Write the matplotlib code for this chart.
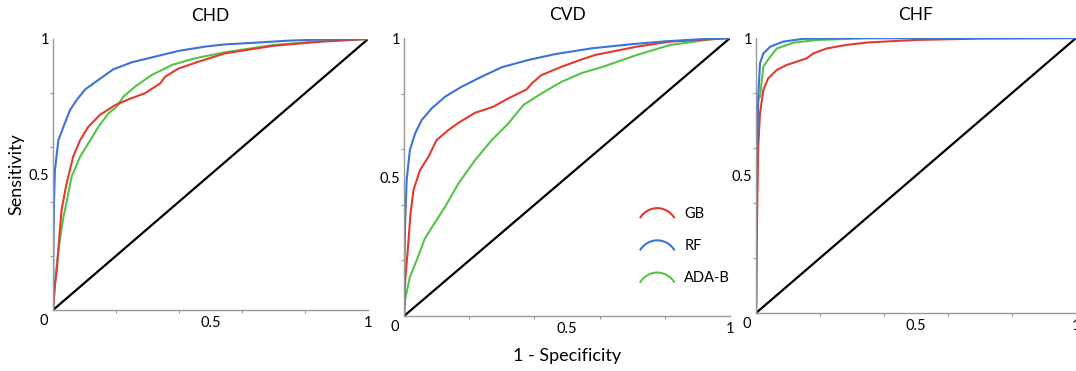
import numpy as np
import matplotlib
matplotlib.use("Agg")
import matplotlib.pyplot as plt
from matplotlib.legend_handler import HandlerBase
from matplotlib.lines import Line2D

plt.rcParams['font.family'] = ['Lato', 'DejaVu Sans']

titles = ["CHD", "CVD", "CHF"]
models = ["GB", "RF", "ADA-B"]
colors = {"GB": "#e23b2e", "RF": "#3d72d9", "ADA-B": "#55c34a"}

# ROC points: (fpr, tpr)
chd_gb_x = [0, 0.005, 0.012, 0.02, 0.027, 0.043, 0.064, 0.086, 0.112, 0.149, 0.197, 0.239, 0.292, 0.34, 0.356, 0.398, 0.461, 0.546, 0.7, 0.85, 1]
chd_gb_y = [0, 0.08, 0.15, 0.27, 0.37, 0.467, 0.566, 0.627, 0.676, 0.72, 0.756, 0.777, 0.8, 0.836, 0.861, 0.891, 0.916, 0.947, 0.975, 0.99, 1]
chd_rf_x = [0, 0.001, 0.003, 0.006, 0.017, 0.033, 0.054, 0.075, 0.102, 0.144, 0.191, 0.25, 0.324, 0.398, 0.483, 0.546, 0.65, 0.75, 0.85, 1]
chd_rf_y = [0, 0.2, 0.4, 0.517, 0.627, 0.676, 0.738, 0.775, 0.814, 0.849, 0.888, 0.914, 0.935, 0.956, 0.972, 0.98, 0.987, 0.994, 0.998, 1]
chd_ada_x = [0, 0.003, 0.006, 0.017, 0.033, 0.038, 0.059, 0.086, 0.112, 0.144, 0.176, 0.202, 0.223, 0.26, 0.313, 0.377, 0.451, 0.546, 0.7, 0.85, 1]
chd_ada_y = [0, 0.05, 0.1, 0.221, 0.344, 0.369, 0.492, 0.566, 0.615, 0.676, 0.726, 0.75, 0.787, 0.824, 0.867, 0.904, 0.929, 0.951, 0.978, 0.992, 1]

cvd_gb_x = [0, 0.003, 0.008, 0.013, 0.02, 0.029, 0.049, 0.075, 0.1, 0.136, 0.167, 0.218, 0.274, 0.32, 0.376, 0.392, 0.422, 0.484, 0.545, 0.586, 0.714, 0.816, 1]
cvd_gb_y = [0, 0.118, 0.19, 0.26, 0.37, 0.453, 0.525, 0.573, 0.633, 0.669, 0.695, 0.731, 0.753, 0.783, 0.815, 0.837, 0.867, 0.897, 0.923, 0.939, 0.969, 0.987, 1]
cvd_rf_x = [0, 0.001, 0.002, 0.003, 0.008, 0.018, 0.034, 0.054, 0.085, 0.126, 0.177, 0.238, 0.3, 0.381, 0.463, 0.576, 0.7, 0.8, 0.9, 1]
cvd_rf_y = [0, 0.15, 0.25, 0.32, 0.489, 0.597, 0.657, 0.705, 0.747, 0.789, 0.825, 0.861, 0.895, 0.921, 0.942, 0.963, 0.978, 0.988, 0.995, 1]
cvd_ada_x = [0, 0.003, 0.018, 0.039, 0.064, 0.08, 0.126, 0.167, 0.218, 0.269, 0.32, 0.366, 0.422, 0.484, 0.545, 0.611, 0.714, 0.816, 0.94, 1]
cvd_ada_y = [0, 0.058, 0.141, 0.201, 0.279, 0.309, 0.393, 0.477, 0.561, 0.633, 0.693, 0.759, 0.801, 0.843, 0.874, 0.897, 0.939, 0.975, 0.995, 1]

chf_gb_x = [0, 0.001, 0.002, 0.004, 0.007, 0.0125, 0.023, 0.038, 0.065, 0.096, 0.127, 0.158, 0.179, 0.221, 0.283, 0.351, 0.5, 0.7, 1]
chf_gb_y = [0, 0.03, 0.2, 0.4, 0.605, 0.726, 0.811, 0.853, 0.884, 0.902, 0.914, 0.926, 0.944, 0.962, 0.975, 0.984, 0.993, 0.998, 1]
chf_rf_x = [0, 0.001, 0.002, 0.004, 0.007, 0.0125, 0.023, 0.044, 0.085, 0.148, 0.3, 1]
chf_rf_y = [0, 0.3, 0.45, 0.605, 0.787, 0.908, 0.944, 0.968, 0.987, 0.997, 1, 1]
chf_ada_x = [0, 0.001, 0.002, 0.007, 0.0125, 0.023, 0.044, 0.065, 0.117, 0.19, 0.35, 1]
chf_ada_y = [0, 0.25, 0.53, 0.775, 0.787, 0.896, 0.932, 0.962, 0.983, 0.993, 0.999, 1]

curves = [
    {"GB": (chd_gb_x, chd_gb_y), "RF": (chd_rf_x, chd_rf_y), "ADA-B": (chd_ada_x, chd_ada_y)},
    {"GB": (cvd_gb_x, cvd_gb_y), "RF": (cvd_rf_x, cvd_rf_y), "ADA-B": (cvd_ada_x, cvd_ada_y)},
    {"GB": (chf_gb_x, chf_gb_y), "RF": (chf_rf_x, chf_rf_y), "ADA-B": (chf_ada_x, chf_ada_y)},
]


class ArcHandler(HandlerBase):
    # legend key drawn as a small arc, like the original figure
    def create_artists(self, legend, orig_handle, xdescent, ydescent,
                       width, height, fontsize, trans):
        t = np.linspace(0.2 * np.pi, 0.8 * np.pi, 40)
        x = -xdescent + width * (0.5 - 0.5 * np.cos(t) / np.cos(0.2 * np.pi))
        y = -ydescent + height * (0.05 + 0.9 * (np.sin(t) - np.sin(0.2 * np.pi)) / (1 - np.sin(0.2 * np.pi)))
        line = Line2D(x, y, color=orig_handle.get_color(), lw=orig_handle.get_linewidth())
        line.set_transform(trans)
        return [line]


fig = plt.figure(figsize=(10.76, 3.71), dpi=100)
boxes = [[0.0493, 0.1644, 0.2928, 0.7305],
         [0.3755, 0.1482, 0.3030, 0.7493],
         [0.7026, 0.1563, 0.2974, 0.7412]]

for i, box in enumerate(boxes):
    ax = fig.add_axes(box)
    ax.plot([0, 1], [0, 1], color="black", lw=1.6)
    for m in ["ADA-B", "GB", "RF"]:
        x, y = curves[i][m]
        ax.plot(x, y, color=colors[m], lw=1.5, label=m)
    ax.set_xlim(0, 1)
    ax.set_ylim(0, 1)
    ax.set_xticks([0.5, 1])
    ax.set_xticklabels(["0.5", "1"])
    ax.set_yticks([0.5, 1])
    ax.set_yticklabels(["0.5", "1"])
    ax.set_xticks([0.2, 0.4, 0.6, 0.8], minor=True)
    ax.set_yticks([0.2, 0.4, 0.6, 0.8], minor=True)
    ax.tick_params(which="major", length=0, labelsize=10.5, pad=4)
    ax.tick_params(axis="y", which="major", pad=3)
    ax.tick_params(which="minor", length=2.5, color="#999999", width=0.8)
    for s in ["top", "right"]:
        ax.spines[s].set_visible(False)
    for s in ["left", "bottom"]:
        ax.spines[s].set_color("#999999")
        ax.spines[s].set_linewidth(1.0)
    ax.annotate("0", xy=(0, 0), xytext=(-9, -11), textcoords="offset pixels",
                ha="center", va="center", fontsize=10.5)
    ax.set_title(titles[i], fontsize=12.5, pad=13)
    if i == 0:
        ax.set_ylabel("Sensitivity", fontsize=13, labelpad=3)
    if i == 1:
        ax.set_xlabel("1 - Specificity", fontsize=13, labelpad=9)
        handles = {l.get_label(): l for l in ax.get_lines() if l.get_label() in models}
        ax.legend([handles[m] for m in models], models, loc="upper left",
                  bbox_to_anchor=(0.685, 0.44), frameon=False, fontsize=10.5,
                  handlelength=2.3, handletextpad=0.7, labelspacing=1.25,
                  handler_map={Line2D: ArcHandler()})

fig.savefig("out.png", dpi=100)
